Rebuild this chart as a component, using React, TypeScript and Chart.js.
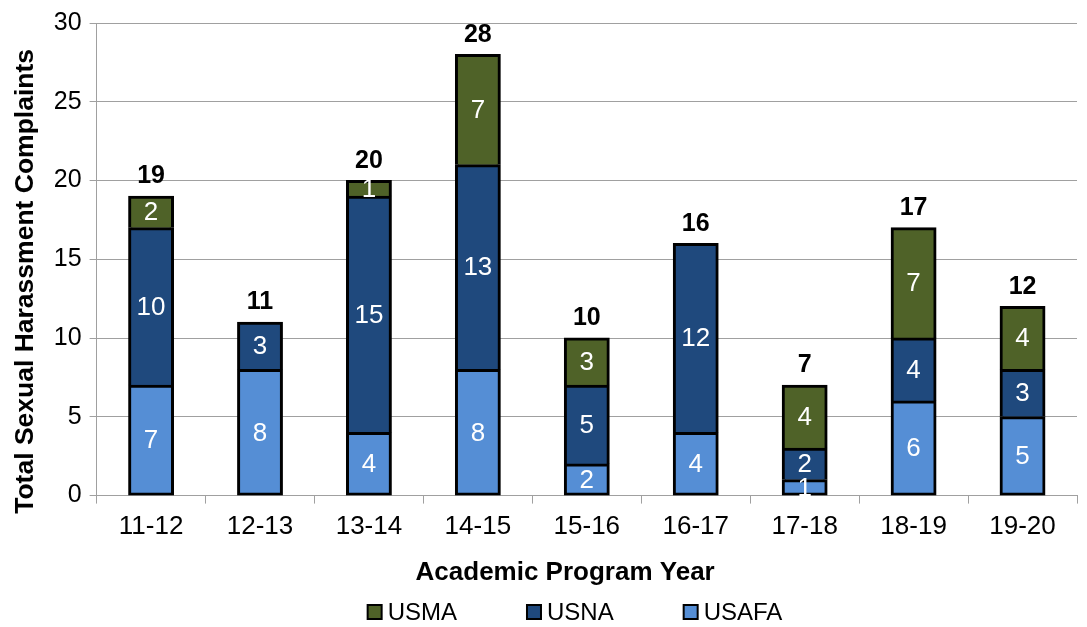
import React, { useEffect, useRef } from "react";
import { Chart, registerables } from "chart.js";

Chart.register(...registerables);

const categories = ["11-12", "12-13", "13-14", "14-15", "15-16", "16-17", "17-18", "18-19", "19-20"];
const usafa = [7, 8, 4, 8, 2, 4, 1, 6, 5];
const usna = [10, 3, 15, 13, 5, 12, 2, 4, 3];
const usma = [2, 0, 1, 7, 3, 0, 4, 7, 4];
const yTicks = [0, 5, 10, 15, 20, 25, 30];
const legendOrder = ["USMA", "USNA", "USAFA"];

const FONT = "'Liberation Sans', Arial, sans-serif";
const PAD6 = "\u00A0\u00A0\u00A0\u00A0\u00A0\u00A0";

const labelPlugin = {
  id: "stackLabels",
  afterDatasetsDraw(chart: any) {
    const ctx = chart.ctx;
    ctx.save();
    ctx.textAlign = "center";
    ctx.textBaseline = "middle";
    ctx.font = `26px ${FONT}`;
    ctx.fillStyle = "#ffffff";
    chart.data.datasets.forEach((ds: any, di: number) => {
      const meta = chart.getDatasetMeta(di);
      meta.data.forEach((el: any, i: number) => {
        const v = ds.data[i];
        if (!v) return;
        const cy = (el.y + el.base) / 2;
        ctx.fillText(String(v), el.x, cy + 1);
      });
    });
    const yScale = chart.scales.y;
    const meta0 = chart.getDatasetMeta(0);
    ctx.font = `bold 25px ${FONT}`;
    ctx.fillStyle = "#000000";
    ctx.textBaseline = "alphabetic";
    categories.forEach((_, i) => {
      const total = usafa[i] + usna[i] + usma[i];
      const x = meta0.data[i].x;
      const y = yScale.getPixelForValue(total);
      ctx.fillText(String(total), x, y - 13);
    });
    ctx.restore();
  },
  afterDraw(chart: any) {
    // legend (USMA, USNA, USAFA) drawn below the axis title
    const ctx = chart.ctx;
    ctx.save();
    ctx.font = `24px ${FONT}`;
    ctx.textBaseline = "middle";
    ctx.textAlign = "left";
    const box = 14;
    const gapBoxText = 6;
    const gapItems = 70;
    const items = legendOrder.map((name) => {
      const ds = chart.data.datasets.find((d: any) => d.label === name);
      return { name, color: ds.backgroundColor, w: ctx.measureText(name).width };
    });
    const total = items.reduce((s, it) => s + box + gapBoxText + it.w, 0) + gapItems * (items.length - 1);
    let x = 575 - total / 2;
    const cy = 612;
    items.forEach((it) => {
      ctx.fillStyle = it.color;
      ctx.fillRect(x, cy - box / 2, box, box);
      ctx.strokeStyle = "#000";
      ctx.lineWidth = 2;
      ctx.strokeRect(x, cy - box / 2, box, box);
      ctx.fillStyle = "#000";
      ctx.fillText(it.name, x + box + gapBoxText, cy + 1);
      x += box + gapBoxText + it.w + gapItems;
    });
    ctx.restore();
  },
};

export default function App() {
  const ref = useRef<HTMLCanvasElement>(null);
  useEffect(() => {
    document.body.style.margin = "0";
    const common = { borderColor: "#000000", borderWidth: 3, barPercentage: 0.41, categoryPercentage: 1, inflateAmount: 0.6 };
    const chart = new Chart(ref.current!, {
      type: "bar",
      data: {
        labels: categories,
        datasets: [
          { label: "USAFA", data: usafa, backgroundColor: "#558ED5", borderSkipped: false, ...common },
          { label: "USNA", data: usna, backgroundColor: "#1F497D", borderSkipped: "bottom", ...common },
          { label: "USMA", data: usma, backgroundColor: "#4F6228", borderSkipped: "bottom", ...common },
        ],
      },
      options: {
        animation: false,
        responsive: false,
        layout: { padding: { top: 10, right: 10, left: 10, bottom: 39 } },
        plugins: {
          legend: { display: false },
          tooltip: { enabled: false },
        },
        scales: {
          x: {
            stacked: true,
            grid: { display: true, drawOnChartArea: false, drawTicks: true, tickLength: 8, color: "#a0a0a0", offset: true },
            border: { color: "#a0a0a0", width: 1 },
            ticks: { color: "#000", font: { family: FONT, size: 26 }, padding: 8 },
            title: { display: true, text: "Academic Program Year" + PAD6, color: "#000", font: { family: FONT, size: 26, weight: "bold" }, padding: { top: 6, bottom: 0 } },
          },
          y: {
            stacked: true,
            min: 0,
            max: 30,
            afterBuildTicks: (axis: any) => {
              axis.ticks = yTicks.map((v) => ({ value: v }));
            },
            grid: { color: "#a0a0a0", tickLength: 7 },
            border: { color: "#a0a0a0", width: 1 },
            ticks: { color: "#000", font: { family: FONT, size: 25 }, padding: 8 },
            title: { display: true, text: "Total Sexual Harassment Complaints" + PAD6, color: "#000", font: { family: FONT, size: 26.5, weight: "bold" }, padding: { top: 0, bottom: 4 } },
          },
        },
      },
      plugins: [labelPlugin],
    });
    return () => chart.destroy();
  }, []);
  return <canvas ref={ref} width={1087} height={627} style={{ display: "block" }} />;
}
